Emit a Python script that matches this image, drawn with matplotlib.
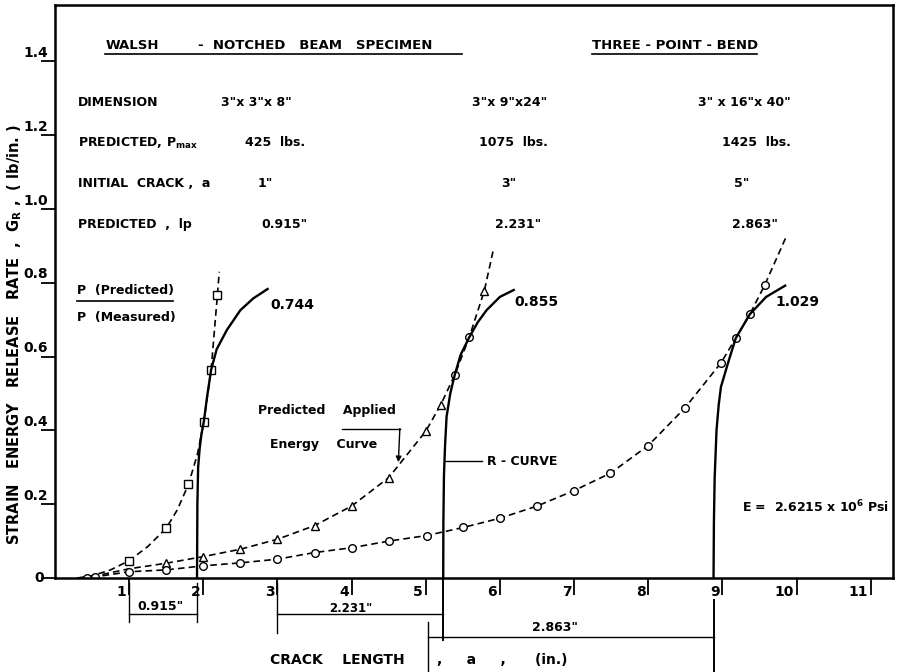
import matplotlib
matplotlib.use('Agg')
import matplotlib.pyplot as plt
from matplotlib.transforms import offset_copy

# ---------------- data ----------------
# Predicted applied energy curve, 3"x3"x8" beam (squares)
sq_x = [0.30, 0.50, 0.75, 1.00, 1.25, 1.50, 1.65, 1.80, 1.92, 2.007, 2.105, 2.19, 2.215]
sq_y = [0.000, 0.006, 0.022, 0.047, 0.085, 0.135, 0.185, 0.254, 0.335, 0.424, 0.564, 0.767, 0.830]
sq_marks = [3, 5, 7, 9, 10, 11]

# Predicted applied energy curve, 3"x9"x24" beam (triangles)
tri_x = [0.35, 0.60, 1.00, 1.50, 2.00, 2.50, 3.00, 3.50, 4.00, 4.50, 5.00, 5.20, 5.39, 5.585, 5.79, 5.91]
tri_y = [0.000, 0.008, 0.025, 0.040, 0.058, 0.078, 0.105, 0.142, 0.195, 0.272, 0.398, 0.469, 0.550, 0.652, 0.779, 0.889]
tri_marks = [3, 4, 5, 6, 7, 8, 9, 10, 11, 14]
tri_circle_marks = [12, 13]

# Predicted applied energy curve, 3"x16"x40" beam (circles)
cir_x = [0.35, 0.43, 0.54, 1.00, 1.50, 2.00, 2.50, 3.00, 3.50, 4.00, 4.50, 5.01, 5.505,
         6.00, 6.50, 7.00, 7.49, 8.00, 8.49, 8.98, 9.18, 9.37, 9.57, 9.86]
cir_y = [0.000, 0.001, 0.003, 0.017, 0.022, 0.033, 0.041, 0.051, 0.069, 0.082, 0.100, 0.115, 0.137,
         0.162, 0.195, 0.237, 0.284, 0.359, 0.460, 0.583, 0.650, 0.715, 0.794, 0.925]
cir_marks = [1, 2, 3, 4, 5, 6, 7, 8, 9, 10, 11, 12, 13, 14, 15, 16, 17, 18, 19, 20, 21, 22]

# R-curves (solid)
r1_x = [1.915, 1.920, 1.930, 1.950, 1.975, 2.007, 2.05, 2.105, 2.18, 2.317, 2.50, 2.675, 2.88]
r1_y = [0.000, 0.200, 0.300, 0.350, 0.390, 0.424, 0.490, 0.564, 0.620, 0.672, 0.726, 0.758, 0.785]
r2_x = [5.235, 5.237, 5.245, 5.26, 5.28, 5.33, 5.39, 5.47, 5.585, 5.70, 5.82, 6.00, 6.20]
r2_y = [0.000, 0.150, 0.280, 0.360, 0.437, 0.500, 0.550, 0.605, 0.652, 0.693, 0.726, 0.762, 0.782]
r3_x = [8.88, 8.885, 8.895, 8.92, 8.95, 8.98, 9.08, 9.18, 9.37, 9.59, 9.86]
r3_y = [0.000, 0.150, 0.270, 0.400, 0.470, 0.518, 0.586, 0.650, 0.715, 0.762, 0.794]

x_ticks = [1, 2, 3, 4, 5, 6, 7, 8, 9, 10, 11]
x_tick_labels = ['1', '2', '3', '4', '5', '6', '7', '8', '9', '10', '11']
y_ticks = [0.0, 0.2, 0.4, 0.6, 0.8, 1.0, 1.2, 1.4]
y_tick_labels = ['0', '0.2', '0.4', '0.6', '0.8', '1.0', '1.2', '1.4']

# table text
dimensions = ['3"x 3"x 8"', '3"x 9"x24"', '3" x 16"x 40"']
p_max = ['425  lbs.', '1075  lbs.', '1425  lbs.']
init_crack = ['1"', '3"', '5"']
lp_values = ['0.915"', '2.231"', '2.863"']
p_ratio = ['0.744', '0.855', '1.029']

# ---------------- figure ----------------
plt.rcParams['font.family'] = ['Liberation Sans Narrow', 'DejaVu Sans']
plt.rcParams['font.weight'] = 'bold'
plt.rcParams['mathtext.default'] = 'bf'

fig = plt.figure(figsize=(9.05, 6.72), dpi=100)
ax = fig.add_axes([55 / 905, 94 / 672, 838 / 905, 573 / 672])
ax.set_xlim(0, 11.30)
ax.set_ylim(0, 1.553)
for s in ax.spines.values():
    s.set_linewidth(1.8)

ax.set_xticks(x_ticks)
ax.set_xticklabels([])
ax.set_yticks(y_ticks)
ax.set_yticklabels([])
ax.tick_params(axis='x', direction='out', length=12, width=1.3)
ax.tick_params(axis='y', direction='out', length=10, width=1.3)

FS = 9
for xv, lab in zip(x_ticks, x_tick_labels):
    ax.text(xv, 0, lab, transform=offset_copy(ax.transData, fig, x=-2, y=-5, units='points'),
            ha='right', va='top', fontsize=FS + 1, clip_on=False)
for yv, lab in zip(y_ticks, y_tick_labels):
    if yv == 0:
        ax.text(0, yv, lab, transform=offset_copy(ax.transData, fig, x=-8, y=0, units='points'),
                ha='right', va='center', fontsize=FS + 1, clip_on=False)
    else:
        ax.text(0, yv, lab, transform=offset_copy(ax.transData, fig, x=-5, y=1, units='points'),
                ha='right', va='bottom', fontsize=FS + 1, clip_on=False)

dash = (0, (4, 2.5))
mk = dict(ms=5.5, mfc='white', mec='k', mew=1.0)

ax.plot(sq_x, sq_y, color='k', lw=1.2, ls=dash, marker='s', markevery=sq_marks, **mk)
ax.plot(tri_x, tri_y, color='k', lw=1.2, ls=dash, marker='^', markevery=tri_marks, **mk)
ax.plot([tri_x[i] for i in tri_circle_marks], [tri_y[i] for i in tri_circle_marks],
        ls='none', marker='o', **mk)
ax.plot(cir_x, cir_y, color='k', lw=1.2, ls=dash, marker='o', markevery=cir_marks, **mk)

for rx, ry in [(r1_x, r1_y), (r2_x, r2_y), (r3_x, r3_y)]:
    ax.plot(rx, ry, color='k', lw=1.7, solid_capstyle='butt')

# ---------------- header table ----------------
def txt(x, y, s, **kw):
    kw.setdefault('fontsize', FS)
    kw.setdefault('va', 'center')
    ax.text(x, y, s, **kw)

txt(0.676, 1.444, 'WALSH', fontsize=FS + 0.5)
txt(1.93, 1.444, '-  NOTCHED   BEAM   SPECIMEN', fontsize=FS + 0.5)
txt(7.24, 1.444, 'THREE - POINT - BEND', fontsize=FS + 0.5)
ax.plot([0.676, 5.49], [1.420, 1.420], color='k', lw=1.2)
ax.plot([7.24, 9.46], [1.420, 1.420], color='k', lw=1.2)

col_x = [2.71, 6.13, 9.30]
txt(0.313, 1.290, 'DIMENSION')
txt(0.313, 1.179, r'PREDICTED, P$_{\mathbf{max}}$')
txt(0.313, 1.070, 'INITIAL  CRACK ,  a')
txt(0.313, 0.957, 'PREDICTED  ,  lp')
for i in range(3):
    txt(col_x[i], 1.290, dimensions[i], ha='center')
    txt([2.97, 6.18, 9.46][i], 1.179, p_max[i], ha='center')
    txt([2.83, 6.12, 9.26][i], 1.070, init_crack[i], ha='center')
    txt([3.09, 6.24, 9.44][i], 0.957, lp_values[i], ha='center')

txt(0.30, 0.780, 'P  (Predicted)')
ax.plot([0.30, 1.59], [0.751, 0.751], color='k', lw=1.2)
txt(0.30, 0.707, 'P  (Measured)')
for xv, yv, s in zip([2.90, 6.20, 9.71], [0.740, 0.748, 0.748], p_ratio):
    txt(xv, yv, s, fontsize=FS + 1)

# annotations
txt(2.74, 0.453, 'Predicted    Applied')
txt(2.90, 0.363, 'Energy    Curve')
ax.plot([3.87, 4.65], [0.404, 0.404], color='k', lw=1.0)
ax.annotate('', xy=(4.63, 0.314), xytext=(4.65, 0.405),
            arrowprops=dict(arrowstyle='-|>', color='k', lw=1.0, mutation_scale=8,
                            shrinkA=0, shrinkB=0))
ax.plot([5.26, 5.76], [0.317, 0.317], color='k', lw=1.0)
txt(5.82, 0.317, 'R - CURVE')
txt(9.27, 0.192, r'E =  2.6215 x 10$^{6}$ Psi')

# ---------------- dimension lines below the axis ----------------
dl = dict(color='k', lw=1.0, clip_on=False)
ax.plot([1.0, 1.0], [-0.014, -0.12], **dl)
ax.plot([1.915, 1.915], [-0.014, -0.12], **dl)
ax.plot([1.0, 1.915], [-0.098, -0.098], **dl)
txt(1.42, -0.076, '0.915"', ha='center')

ax.plot([3.0, 3.0], [-0.014, -0.15], **dl)
ax.plot([5.235, 5.235], [0.0, -0.168], color='k', lw=1.4, clip_on=False)
ax.plot([3.0, 5.235], [-0.098, -0.098], **dl)
txt(3.99, -0.082, '2.231"', ha='center', fontsize=FS - 0.5)

ax.plot([5.03, 5.03], [-0.119, -0.255], **dl)
ax.plot([5.03, 8.88], [-0.160, -0.160], **dl)
ax.plot([8.88, 8.88], [-0.060, -0.255], color='k', lw=1.4, clip_on=False)
txt(6.74, -0.135, '2.863"', ha='center')

txt(4.72, -0.222, 'CRACK    LENGTH', ha='right', fontsize=FS + 1)
txt(5.15, -0.222, ',     a     ,      (in.)', ha='left', fontsize=FS + 1)

ax.text(-0.55, 0.66, r'STRAIN   ENERGY   RELEASE   RATE  ,  G$_{\mathbf{R}}$ ,  ( lb/in. )',
        rotation=90, ha='center', va='center', fontsize=FS + 1.5, clip_on=False)

fig.savefig('out.png', dpi=100)
